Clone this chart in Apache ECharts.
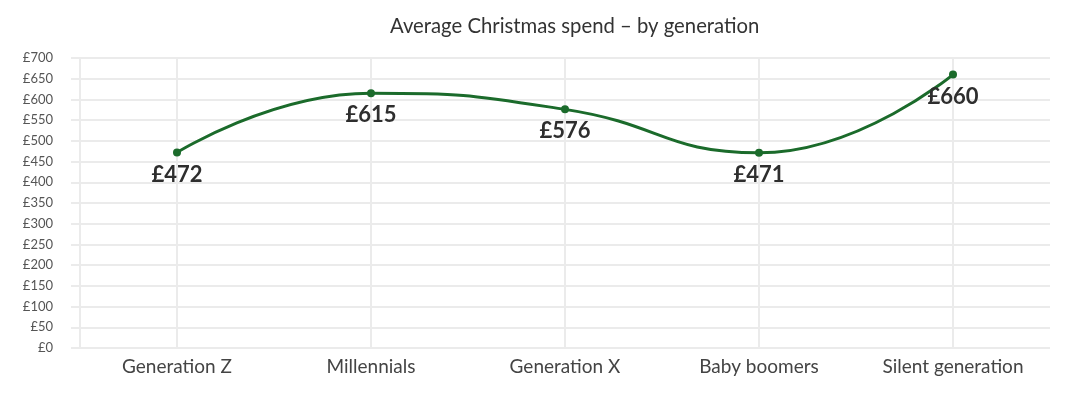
<!DOCTYPE html>
<html>
<head>
<meta charset="utf-8">
<script src="https://cdn.jsdelivr.net/npm/echarts@6/dist/echarts.min.js"></script>
<style>
  html, body { margin: 0; padding: 0; background: #fff; }
  #chart { width: 1083px; height: 396px; }
</style>
</head>
<body>
<div id="chart"></div>
<script>
// data
const generations = ['Generation Z', 'Millennials', 'Generation X', 'Baby boomers', 'Silent generation'];
const spend = [472, 615, 576, 471, 660];

const chart = echarts.init(document.getElementById('chart'));
const gridColor = '#ebebeb';

const option = {
    animation: false,
    textStyle: { fontFamily: 'Lato' },
    title: {
        text: 'Average Christmas spend \u2013 by generation',
        left: 385,
        top: 11,
        textStyle: { fontSize: 20.3, fontWeight: 'normal', color: '#333' }
    },
    grid: { left: 80, right: 33, top: 58, bottom: 48 },
    xAxis: [{
        type: 'category',
        data: generations,
        boundaryGap: true,
        axisLine: { show: false },
        axisTick: { show: false },
        splitLine: { show: false },
        axisLabel: { fontSize: 19, color: '#444', margin: 9 }
    }, {
        // hidden helper axis, only there to put vertical grid lines on category centres
        type: 'value',
        min: 0,
        max: 10,
        interval: 1,
        show: true,
        axisLine: { show: false },
        axisTick: { show: false },
        axisLabel: { show: false },
        splitLine: { show: true, lineStyle: { color: ['rgba(0,0,0,0)', gridColor], width: 2 } }
    }],
    yAxis: {
        type: 'value',
        min: 0,
        max: 700,
        interval: 50,
        axisLine: { show: true, lineStyle: { color: gridColor, width: 2 } },
        axisTick: { show: true, length: 9, lineStyle: { color: gridColor, width: 2 } },
        splitLine: { lineStyle: { color: gridColor, width: 2 } },
        axisLabel: {
            fontSize: 13,
            color: '#555',
            margin: 27,
            formatter: v => '\u00a3' + v
        }
    },
    series: [{
        type: 'line',
        data: spend,
        xAxisIndex: 0,
        smooth: 0.5,
        symbol: 'circle',
        symbolSize: 8,
        lineStyle: { color: '#1b6b2b', width: 3 },
        itemStyle: { color: '#1b6b2b' },
        label: {
            show: true,
            position: 'bottom',
            distance: 7,
            fontSize: 22,
            fontWeight: 'bold',
            color: '#2e2e2e',
            formatter: p => '\u00a3' + p.value
        }
    }]
};

chart.setOption(option);
</script>
</body>
</html>
